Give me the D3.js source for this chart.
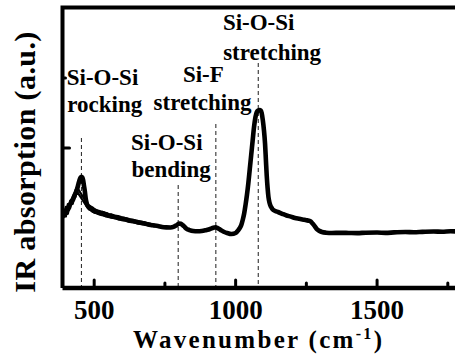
<!DOCTYPE html>
<html><head><meta charset="utf-8">
<script src="https://cdn.jsdelivr.net/npm/d3@7"></script>
<style>html,body{margin:0;padding:0;background:#fff;overflow:hidden}</style>
</head><body>
<svg id="c" width="455" height="355"></svg>
<script>
// Spectrum (wavenumber cm^-1, arbitrary absorbance)
const wavenumber = [392,397,400,404,408,412,416,420,425,430,435,440,444,448,452,455,458,461,464,467,470,473,476,480,485,490,495,500,507,514,520,528,536,544,550,560,570,580,590,600,612,625,637,650,662,675,688,700,712,725,740,755,770,780,790,800,806,812,818,825,837,850,865,880,893,905,915,925,930,935,942,950,960,970,985,1000,1008,1015,1020,1025,1030,1035,1040,1045,1050,1055,1060,1065,1070,1075,1080,1085,1089,1092,1096,1100,1104,1107,1110,1113,1116,1120,1125,1130,1140,1150,1165,1180,1195,1210,1225,1240,1250,1258,1265,1272,1280,1288,1296,1305,1320,1340,1370,1400,1430,1460,1500,1530,1560,1600,1630,1660,1700,1730,1760,1800,1900,2000];
const absorbance = [0.53,0.55,0.54,0.57,0.56,0.59,0.60,0.62,0.63,0.66,0.68,0.71,0.74,0.77,0.79,0.795,0.79,0.77,0.73,0.69,0.64,0.61,0.59,0.58,0.57,0.565,0.555,0.55,0.545,0.54,0.536,0.535,0.528,0.525,0.518,0.515,0.508,0.505,0.497,0.493,0.49,0.48,0.478,0.471,0.466,0.462,0.455,0.45,0.447,0.443,0.436,0.433,0.432,0.436,0.447,0.461,0.459,0.45,0.44,0.425,0.414,0.407,0.405,0.407,0.412,0.418,0.426,0.432,0.433,0.429,0.421,0.411,0.4,0.393,0.386,0.393,0.41,0.429,0.45,0.486,0.53,0.593,0.665,0.75,0.85,0.95,1.05,1.15,1.22,1.257,1.268,1.271,1.268,1.25,1.2,1.129,1.03,0.914,0.8,0.714,0.65,0.607,0.58,0.564,0.55,0.543,0.53,0.518,0.51,0.5,0.494,0.488,0.484,0.481,0.476,0.46,0.44,0.418,0.408,0.4,0.395,0.393,0.394,0.393,0.392,0.395,0.396,0.394,0.397,0.4,0.398,0.401,0.404,0.402,0.405,0.404,0.404,0.404];

// Noisy low-wavenumber region: lower/upper edges of the noise band
const noiseWave = [392,396,400,403,407,411,415,419,424,429,434,439,476,482,488,494,500,508,516,524,532,540,550,560,572,584,596,610,625,640,655,670,685,700,715];
const noiseLow  = [0.50,0.53,0.51,0.55,0.53,0.57,0.57,0.60,0.60,0.64,0.65,0.69,0.575,0.56,0.555,0.548,0.538,0.534,0.527,0.522,0.518,0.512,0.508,0.503,0.498,0.491,0.487,0.482,0.474,0.468,0.462,0.456,0.45,0.446,0.44];
const noiseHigh = [0.56,0.55,0.58,0.56,0.60,0.59,0.62,0.63,0.65,0.67,0.70,0.72,0.6,0.59,0.582,0.575,0.566,0.556,0.552,0.546,0.543,0.537,0.528,0.526,0.518,0.513,0.506,0.5,0.492,0.486,0.478,0.472,0.465,0.458,0.452];

const xTickMajor = [500,1000,1500];
const xTickMinor = [750,1250,1750];
const yTickMajor = [1];
const yTickMinor = [1.5];

// Dashed peak markers: wavenumber and top of the line (absorbance units)
const peakPositions = [455,797,930,1080];
const peakTops = [1.071,0.736,1.171,1.607];

// Annotation lines: text, anchor wavenumber, baseline (absorbance units), anchor type
const labelText = ["Si-O-Si","rocking","Si-O-Si","bending","Si-F","stretching","Si-O-Si","stretching"];
const labelWave = [403,405,630,632,886,883,955,956];
const labelY = [1.45,1.257,0.986,0.795,1.474,1.271,1.843,1.629];
const labelAnchor = ["start","start","start","start","middle","middle","start","start"];

const svg = d3.select("#c");
const mLeft = 62.5, mTop = 7.5, mBottom = 288;
const x = d3.scaleLinear().domain([388,2000]).range([mLeft, mLeft + (2000-388)*0.2829]);
const y = d3.scaleLinear().domain([0,2]).range([mBottom, 8]);
const font = "'Liberation Serif','Times New Roman',serif";

// dashed lines
svg.append("g").selectAll("line").data(peakPositions).join("line")
  .attr("x1", d=>x(d)).attr("x2", d=>x(d))
  .attr("y1", (d,i)=>y(peakTops[i])).attr("y2", y(0))
  .attr("stroke","#333").attr("stroke-width",1.1).attr("stroke-dasharray","4,3");

// spectrum
const pts = wavenumber.map((w,i)=>[w,absorbance[i]]);
const line = d3.line().x(d=>x(d[0])).y(d=>y(d[1])).curve(d3.curveMonotoneX);
svg.append("path").datum(pts)
  .attr("d", line)
  .attr("fill","none").attr("stroke","#000").attr("stroke-width",4.6)
  .attr("stroke-linejoin","round");
// noise band
[noiseLow, noiseHigh].forEach(arr => {
  svg.append("path").datum(noiseWave.map((w,i)=>[w,arr[i]]))
    .attr("d", d3.line().x(d=>x(d[0])).y(d=>y(d[1])))
    .attr("fill","none").attr("stroke","#000").attr("stroke-width",2.2)
    .attr("stroke-linejoin","round");
});

// frame
svg.append("path")
  .attr("d", `M${mLeft},${y(0)}V${mTop}H${460}`)
  .attr("fill","none").attr("stroke","#000").attr("stroke-width",4);
svg.append("line").attr("x1",mLeft).attr("x2",460).attr("y1",y(0)).attr("y2",y(0))
  .attr("stroke","#000").attr("stroke-width",4.5);

// x ticks (inward)
svg.append("g").selectAll("line").data(xTickMajor).join("line")
  .attr("x1",d=>x(d)).attr("x2",d=>x(d)).attr("y1",y(0)).attr("y2",y(0)-8)
  .attr("stroke","#000").attr("stroke-width",3).attr("stroke-linecap","round");
svg.append("g").selectAll("line").data(xTickMinor).join("line")
  .attr("x1",d=>x(d)).attr("x2",d=>x(d)).attr("y1",y(0)).attr("y2",y(0)-5)
  .attr("stroke","#000").attr("stroke-width",3).attr("stroke-linecap","round");
// y ticks
svg.append("g").selectAll("line").data(yTickMajor).join("line")
  .attr("x1",mLeft).attr("x2",mLeft+7).attr("y1",d=>y(d)).attr("y2",d=>y(d))
  .attr("stroke","#000").attr("stroke-width",3).attr("stroke-linecap","round");
svg.append("g").selectAll("line").data(yTickMinor).join("line")
  .attr("x1",mLeft).attr("x2",mLeft+3).attr("y1",d=>y(d)).attr("y2",d=>y(d))
  .attr("stroke","#000").attr("stroke-width",3).attr("stroke-linecap","round");

// x tick labels
svg.append("g").selectAll("text").data(xTickMajor).join("text")
  .attr("x",d=>x(d)).attr("y",319).attr("text-anchor","middle")
  .attr("font-family",font).attr("font-weight","bold").attr("font-size",27)
  .text(d=>d);

// axis titles
const xt = svg.append("text").attr("x",133).attr("y",348)
  .attr("font-family",font).attr("font-weight","bold").attr("font-size",25)
  .attr("letter-spacing",2.3);
xt.append("tspan").text("Wavenumber (cm");
xt.append("tspan").attr("font-size",16).attr("dy",-9).text("-1");
xt.append("tspan").attr("dy",9).text(")");

svg.append("text").attr("transform","translate(35,162) rotate(-90)")
  .attr("text-anchor","middle")
  .attr("font-family",font).attr("font-weight","bold").attr("font-size",30)
  .attr("letter-spacing",0.4)
  .text("IR absorption (a.u.)");

// annotations
svg.append("g").selectAll("text").data(labelText).join("text")
  .attr("x",(d,i)=>x(labelWave[i])).attr("y",(d,i)=>y(labelY[i]))
  .attr("text-anchor",(d,i)=>labelAnchor[i])
  .attr("font-family",font).attr("font-weight","bold").attr("font-size",23)
  .text(d=>d);
</script>
</body></html>
